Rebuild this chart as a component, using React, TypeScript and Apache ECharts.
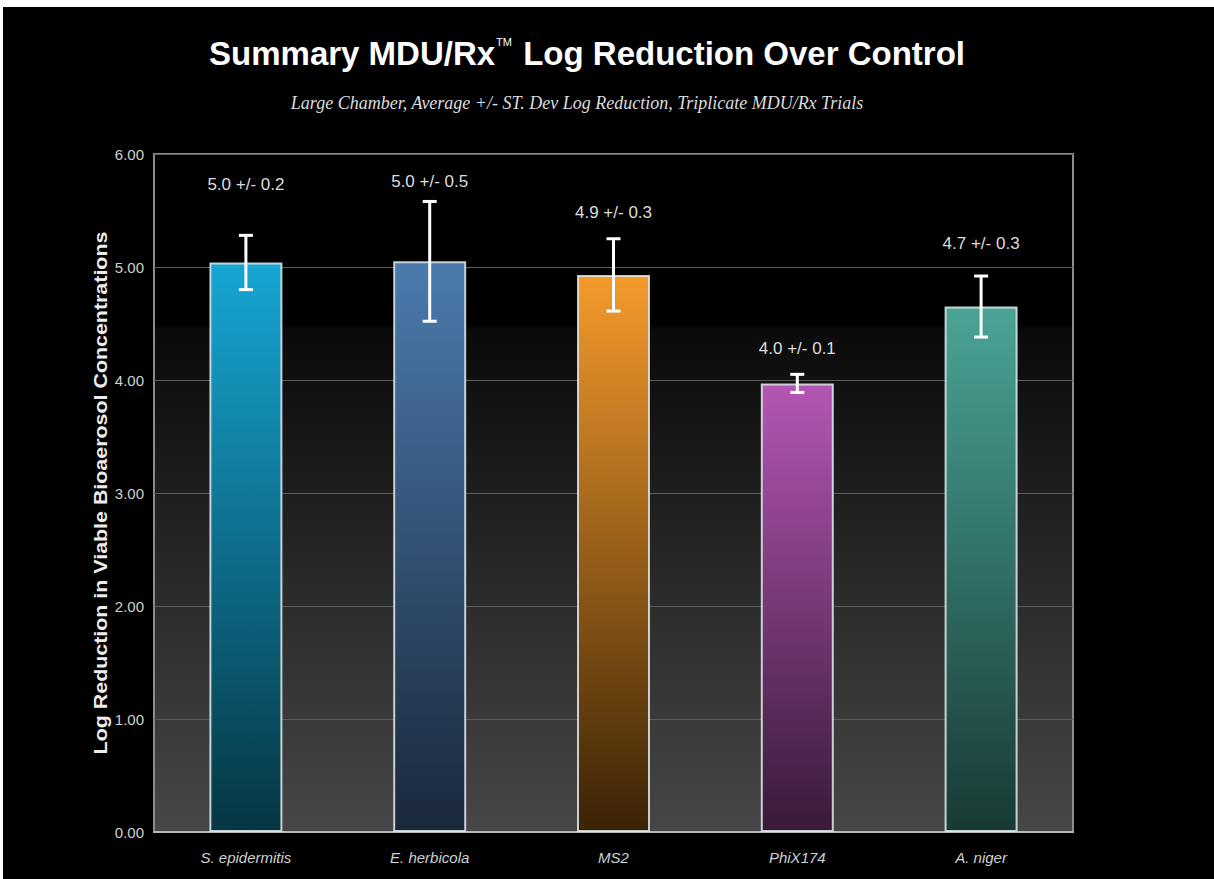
import React, { useEffect, useRef } from "react";
import * as echarts from "echarts";

const categories = ["S. epidermitis", "E. herbicola", "MS2", "PhiX174", "A. niger"];
const means = [5.04, 5.05, 4.93, 3.97, 4.65];
const stdevs = [0.24, 0.53, 0.32, 0.08, 0.27];
const valueLabels = ["5.0 +/- 0.2", "5.0 +/- 0.5", "4.9 +/- 0.3", "4.0 +/- 0.1", "4.7 +/- 0.3"];
const labelAt = [5.73, 5.76, 5.48, 4.28, 5.21];
const topColors = ["#16a6d4", "#4b7bae", "#f49a2c", "#b456b4", "#4aa496"];
const bottomColors = ["#063644", "#1a283a", "#3b2306", "#381a38", "#183a35"];
const yMin = 0;
const yMax = 6;
const yStep = 1;

export default function App() {
  const ref = useRef<HTMLDivElement>(null);
  useEffect(() => {
    if (!ref.current) return;
    const chart = echarts.init(ref.current, null, { renderer: "svg" });
    const bg = new echarts.graphic.LinearGradient(0, 0, 0, 1, [
      { offset: 0, color: "#000000" },
      { offset: 0.25, color: "#000000" },
      { offset: 0.26, color: "#0a0a0a" },
      { offset: 0.6, color: "#272727" },
      { offset: 1, color: "#474747" },
    ]);
    chart.setOption({
      animation: false,
      backgroundColor: "#000000",
      graphic: [
        {
          type: "text",
          x: 584,
          y: 46,
          style: {
            text: "{a|Summary MDU/Rx}{tm|TM}{a| Log Reduction Over Control}",
            textAlign: "center",
            textVerticalAlign: "middle",
            fill: "#ffffff",
            rich: {
              a: { fontFamily: "Liberation Sans, Arial", fontWeight: "bold", fontSize: 33, fill: "#ffffff" },
              tm: { fontFamily: "Liberation Sans, Arial", fontSize: 11, fill: "#ffffff", verticalAlign: "top", padding: [0, 2, 16, 1] },
            },
          },
        },
        {
          type: "text",
          x: 574,
          y: 96,
          style: {
            text: "Large Chamber, Average +/- ST. Dev Log Reduction, Triplicate MDU/Rx Trials",
            textAlign: "center",
            textVerticalAlign: "middle",
            fill: "#dddddd",
            font: "italic 18px 'Liberation Serif', 'Times New Roman', serif",
          },
        },
        {
          type: "text",
          x: 98,
          y: 486,
          rotation: Math.PI / 2,
          scaleX: 1.19,
          style: {
            text: "Log Reduction in Viable Bioaerosol Concentrations",
            textAlign: "center",
            textVerticalAlign: "middle",
            fill: "#ececec",
            font: "bold 18px 'Liberation Sans', Arial",
          },
        },
      ],
      grid: {
        left: 151,
        right: 141,
        top: 147,
        bottom: 47,
        show: true,
        backgroundColor: bg,
        borderColor: "#8c8c8c",
        borderWidth: 2,
      },
      xAxis: {
        type: "category",
        data: categories,
        axisLine: { show: true, lineStyle: { color: "#b8b8b8", width: 2 } },
        axisTick: { show: false },
        axisLabel: {
          color: "#d0d0d0",
          fontFamily: "Liberation Sans, Arial",
          fontStyle: "italic",
          fontSize: 15,
          margin: 18,
        },
      },
      yAxis: {
        type: "value",
        min: yMin,
        max: yMax,
        interval: yStep,
        axisLine: { show: false },
        axisTick: { show: false },
        splitLine: { show: true, lineStyle: { color: "#5c5c5c", width: 1 } },
        axisLabel: {
          color: "#d0d0d0",
          fontFamily: "Liberation Sans, Arial",
          fontSize: 15,
          margin: 10,
          formatter: (v: number) => v.toFixed(2),
        },
      },
      series: [
        {
          type: "bar",
          barWidth: 73,
          data: means.map((m, i) => ({
            value: m,
            itemStyle: {
              color: new echarts.graphic.LinearGradient(0, 0, 0, 1, [
                { offset: 0, color: topColors[i] },
                { offset: 1, color: bottomColors[i] },
              ]),
              borderColor: "rgba(225,235,235,0.85)",
              borderWidth: 2,
            },
          })),
          z: 2,
        },
        {
          type: "custom",
          z: 5,
          data: categories.map((_, i) => [i, means[i], stdevs[i], labelAt[i]]),
          renderItem: (params: any, api: any) => {
            const i = api.value(0);
            const m = api.value(1);
            const s = api.value(2);
            const la = api.value(3);
            const top = api.coord([i, m + s]);
            const bot = api.coord([i, m - s]);
            const lab = api.coord([i, la]);
            const cap = 7;
            const st = { stroke: "#ffffff", lineWidth: 3 };
            return {
              type: "group",
              children: [
                { type: "line", shape: { x1: top[0], y1: top[1], x2: bot[0], y2: bot[1] }, style: st },
                { type: "line", shape: { x1: top[0] - cap, y1: top[1], x2: top[0] + cap, y2: top[1] }, style: st },
                { type: "line", shape: { x1: bot[0] - cap, y1: bot[1], x2: bot[0] + cap, y2: bot[1] }, style: st },
                {
                  type: "text",
                  x: lab[0],
                  y: lab[1],
                  style: {
                    text: valueLabels[params.dataIndex],
                    textAlign: "center",
                    textVerticalAlign: "middle",
                    fill: "#dddddd",
                    font: "17px 'Liberation Sans', Arial",
                  },
                },
              ],
            };
          },
        },
      ],
    });
    return () => chart.dispose();
  }, []);
  return (
    <div
      ref={ref}
      style={{ position: "absolute", left: 3, top: 7, width: 1211, height: 872 }}
    />
  );
}
